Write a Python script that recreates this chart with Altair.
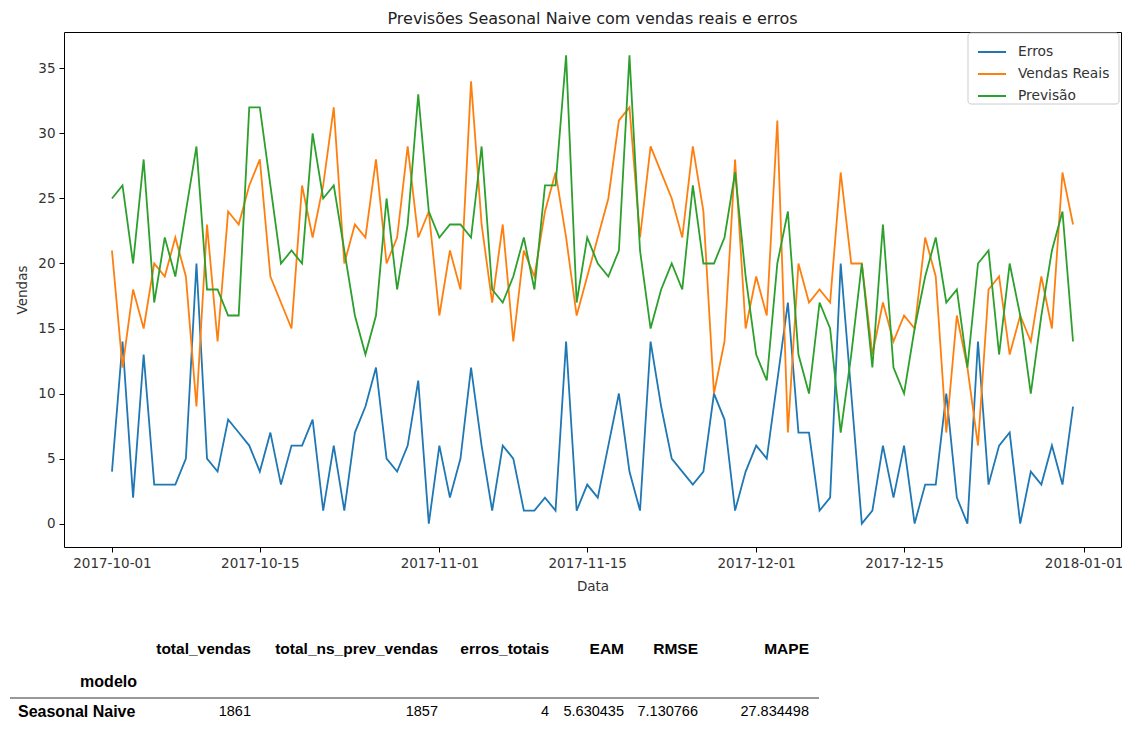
import altair as alt
import pandas as pd

# ---------------- data ----------------
dates = pd.date_range("2017-10-01", "2017-12-31", freq="D").strftime("%Y-%m-%d").tolist()

erros = [4, 14, 2, 13, 3, 3, 3, 5, 20, 5,
         4, 8, 7, 6, 4, 7, 3, 6, 6, 8,
         1, 6, 1, 7, 9, 12, 5, 4, 6, 11,
         0, 6, 2, 5, 12, 6, 1, 6, 5, 1,
         1, 2, 1, 14, 1, 3, 2, 6, 10, 4,
         1, 14, 9, 5, 4, 3, 4, 10, 8, 1,
         4, 6, 5, 11, 17, 7, 7, 1, 2, 20,
         10, 0, 1, 6, 2, 6, 0, 3, 3, 10,
         2, 0, 14, 3, 6, 7, 0, 4, 3, 6,
         3, 9]

vendas_reais = [21, 12, 18, 15, 20, 19, 22, 19, 9, 23,
                14, 24, 23, 26, 28, 19, 17, 15, 26, 22,
                26, 32, 20, 23, 22, 28, 20, 22, 29, 22,
                24, 16, 21, 18, 34, 23, 17, 23, 14, 21,
                19, 24, 27, 22, 16, 19, 22, 25, 31, 32,
                22, 29, 27, 25, 22, 29, 24, 10, 14, 28,
                15, 19, 16, 31, 7, 20, 17, 18, 17, 27,
                20, 20, 13, 17, 14, 16, 15, 22, 19, 7,
                16, 12, 6, 18, 19, 13, 16, 14, 19, 15,
                27, 23]

previsao = [25, 26, 20, 28, 17, 22, 19, 24, 29, 18,
            18, 16, 16, 32, 32, 26, 20, 21, 20, 30,
            25, 26, 21, 16, 13, 16, 25, 18, 23, 33,
            24, 22, 23, 23, 22, 29, 18, 17, 19, 22,
            18, 26, 26, 36, 17, 22, 20, 19, 21, 36,
            21, 15, 18, 20, 18, 26, 20, 20, 22, 27,
            19, 13, 11, 20, 24, 13, 10, 17, 15, 7,
            13, 20, 12, 23, 12, 10, 15, 19, 22, 17,
            18, 12, 20, 21, 13, 20, 16, 10, 16, 21,
            24, 14]

series_names = ["Erros", "Vendas Reais", "Previsão"]
series_colors = ["#1f77b4", "#ff7f0e", "#2ca02c"]

table_index_name = "modelo"
table_row_label = "Seasonal Naive"
table_columns = ["total_vendas", "total_ns_prev_vendas", "erros_totais", "EAM", "RMSE", "MAPE"]
table_values = ["1861", "1857", "4", "5.630435", "7.130766", "27.834498"]

x_ticks = ["2017-10-01", "2017-10-15", "2017-11-01", "2017-11-15",
           "2017-12-01", "2017-12-15", "2018-01-01"]

# ---------------- build long table ----------------
rows = []
for name, vals in zip(series_names, [erros, vendas_reais, previsao]):
    for d, v in zip(dates, vals):
        rows.append({"Data": d, "Vendas": v, "serie": name})
df = pd.DataFrame(rows)


def dt(s, hours=0):
    y, m, d = (int(p) for p in s.split("-"))
    return alt.DateTime(year=y, month=m, date=d, hours=hours, utc=True)


W, H = 1057, 515

lines = alt.Chart(df).mark_line(strokeWidth=1.8).encode(
    x=alt.X(
        "utcyearmonthdate(Data):T",
        title="Data",
        scale=alt.Scale(domain=[dt("2017-09-26", 11), dt("2018-01-04", 13)], nice=False),
        axis=alt.Axis(values=[dt(s) for s in x_ticks], format="%Y-%m-%d",
                      labelAngle=0, titlePadding=10, labelPadding=4),
    ),
    y=alt.Y(
        "Vendas:Q",
        title="Vendas",
        scale=alt.Scale(domain=[-1.8, 37.8], nice=False, zero=False),
        axis=alt.Axis(values=[0, 5, 10, 15, 20, 25, 30, 35], titlePadding=8, labelPadding=4),
    ),
    color=alt.Color(
        "serie:N",
        scale=alt.Scale(domain=series_names, range=series_colors),
        legend=alt.Legend(title=None, orient="none", legendX=913, legendY=5),
    ),
)

# legend frame (matplotlib-style box)
legend_box = alt.Chart(pd.DataFrame({"t": [0]})).mark_rect(
    fill="white", fillOpacity=0.8, stroke="#cccccc", strokeWidth=1, cornerRadius=3
).encode(x=alt.value(904), x2=alt.value(1055), y=alt.value(1), y2=alt.value(72))

# ---------------- table below the chart ----------------
col_right = [187, 374, 485, 560, 634, 745]
header_y, index_y, row_y, rule_y = 617, 650, 680, 666

layers = [lines, legend_box]
for name, val, xr in zip(table_columns, table_values, col_right):
    layers.append(
        alt.Chart(pd.DataFrame({"t": [name]})).mark_text(
            align="right", baseline="middle", font="Liberation Sans",
            fontSize=15.5, fontWeight="bold", color="#000"
        ).encode(text="t:N", x=alt.value(xr), y=alt.value(header_y))
    )
    layers.append(
        alt.Chart(pd.DataFrame({"t": [val]})).mark_text(
            align="right", baseline="middle", font="Liberation Sans",
            fontSize=14.5, color="#000"
        ).encode(text="t:N", x=alt.value(xr), y=alt.value(row_y))
    )
layers.append(
    alt.Chart(pd.DataFrame({"t": [table_index_name]})).mark_text(
        align="right", baseline="middle", font="Liberation Sans",
        fontSize=16, fontWeight="bold", color="#000"
    ).encode(text="t:N", x=alt.value(73), y=alt.value(index_y))
)
layers.append(
    alt.Chart(pd.DataFrame({"t": [table_row_label]})).mark_text(
        align="left", baseline="middle", font="Liberation Sans",
        fontSize=16, fontWeight="bold", color="#000"
    ).encode(text="t:N", x=alt.value(-46), y=alt.value(row_y))
)
layers.append(
    alt.Chart(pd.DataFrame({"t": [0]})).mark_rule(color="#333", strokeWidth=1).encode(
        x=alt.value(-54), x2=alt.value(755), y=alt.value(rule_y)
    )
)

chart = alt.layer(*layers).properties(
    width=W,
    height=H,
    title=alt.TitleParams(
        "Previsões Seasonal Naive com vendas reais e erros",
        font="DejaVu Sans", fontSize=16, fontWeight="normal", color="#222",
        anchor="middle", offset=5,
    ),
    autosize=alt.AutoSizeParams(type="none"),
    padding={"left": 56, "top": 24, "right": 1, "bottom": 174},
).configure_view(
    stroke="#000", strokeWidth=1
).configure_axis(
    domain=False, grid=False,
    tickColor="#000", tickSize=5, tickWidth=1,
    labelFont="DejaVu Sans", labelFontSize=13.5, labelColor="#333",
    titleFont="DejaVu Sans", titleFontSize=13.5, titleFontWeight="normal", titleColor="#333",
).configure_legend(
    padding=0,
    labelFont="DejaVu Sans", labelFontSize=13.8, labelColor="#333",
    symbolType="stroke", symbolSize=784, symbolStrokeWidth=2,
    rowPadding=-3, labelOffset=11,
)

chart.save("out.html", embed_options={"renderer": "svg", "actions": False})
